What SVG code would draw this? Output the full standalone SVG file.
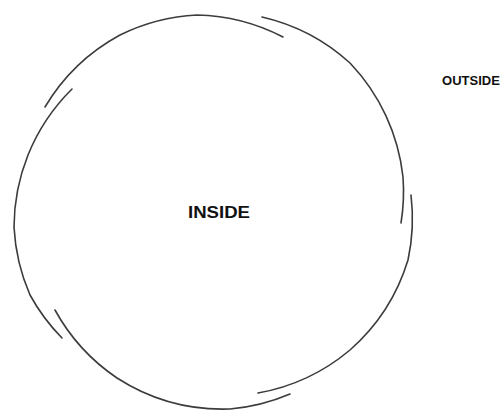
<svg xmlns="http://www.w3.org/2000/svg" width="504" height="410" viewBox="0 0 504 410">
<style>
.seg{fill:none;stroke:#3c3c3c;stroke-width:1.6;stroke-linecap:round}
.lbl{font-family:"Liberation Sans",Arial,sans-serif;font-weight:bold;fill:#111}
</style>
<rect width="504" height="410" fill="#ffffff"/>
<g id="connectors">
<path class="seg" d="M45,107 A196,196 0 0 1 120,35 A196,196 0 0 1 197,15 A196,196 0 0 1 283,37"/>
<path class="seg" d="M262,17 A196,196 0 0 1 350,63 A196,196 0 0 1 403,177 A196,196 0 0 1 401,223"/>
<path class="seg" d="M411,195 A196,196 0 0 1 408,260 A196,196 0 0 1 350,350 A196,196 0 0 1 258,393"/>
<path class="seg" d="M290,394 A196,196 0 0 1 230,409 A196,196 0 0 1 117,378 A196,196 0 0 1 55,310"/>
<path class="seg" d="M62,338 A196,196 0 0 1 30,295 A196,196 0 0 1 14,227 A196,196 0 0 1 28,155 A196,196 0 0 1 72,89"/>
</g>
<g id="inside"><text class="lbl" x="219" y="218" font-size="17" text-anchor="middle" textLength="62" lengthAdjust="spacingAndGlyphs">INSIDE</text></g>
<g id="outside"><text class="lbl" x="471" y="85" font-size="13" text-anchor="middle">OUTSIDE</text></g>
</svg>
